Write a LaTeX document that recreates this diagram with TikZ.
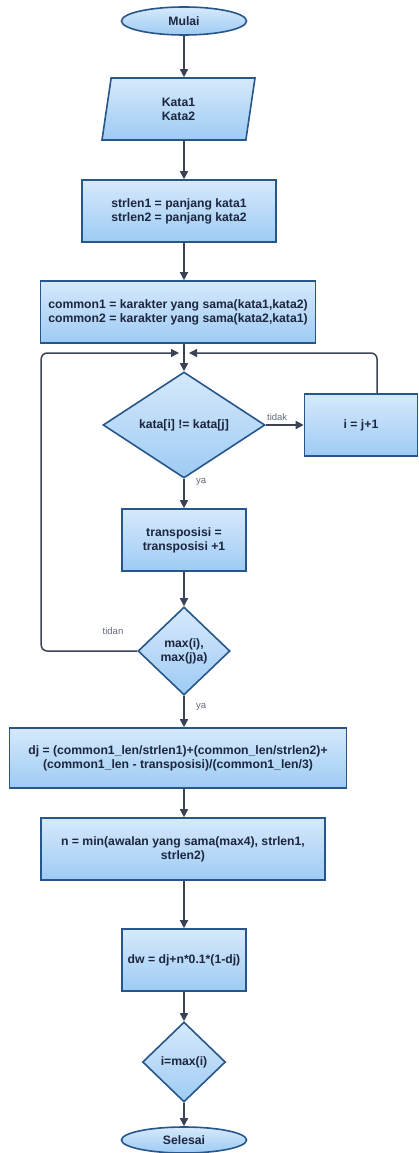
\documentclass[tikz,border=0pt]{standalone}
\usepackage{fontspec}
\setmainfont{Liberation Sans}
\usetikzlibrary{arrows.meta,calc,shapes.geometric}
\definecolor{garisbox}{RGB}{38,86,138}
\definecolor{isiatas}{RGB}{214,233,251}
\definecolor{isibawah}{RGB}{158,203,244}
\definecolor{garispanah}{RGB}{58,68,84}
\definecolor{teksbiru}{RGB}{28,38,62}
\tikzset{
  proses/.style={draw=garisbox, line width=1.6pt, top color=isiatas, bottom color=isibawah,
    rectangle, align=center, inner sep=2pt, minimum height=62pt, text=teksbiru,
    font=\fontsize{12.2}{14}\selectfont\bfseries},
  terminal/.style={proses, ellipse, minimum width=125pt, minimum height=28pt},
  masukan/.style={proses, trapezium, trapezium left angle=71, trapezium right angle=109,
    trapezium stretches body, minimum width=153pt, minimum height=62pt},
  keputusan/.style={proses, diamond, inner sep=0pt},
  panah/.style={draw=garispanah, line width=1.5pt, -{Triangle[length=8pt,width=8pt]}},
  ket/.style={text=garispanah!80, font=\fontsize{9.5}{11}\selectfont}
}

\begin{document}
\begin{tikzpicture}[x=1pt, y=-1pt]
			%%%%% START %%%%%
			\useasboundingbox (0,0) rectangle (419,1153);
			
			\node[terminal] (mulai) at (184,21) {Mulai};
			\node[masukan] (kata) at (178.5,109) {Kata1\\Kata2};
			\node[proses, minimum width=194pt] (strlen) at (179,211) {strlen1 = panjang kata1\\strlen2 = panjang kata2};
			\node[proses, minimum width=275pt] (common) at (178,312) {common1 = karakter yang sama(kata1,kata2)\\common2 = karakter yang sama(kata2,kata1)};
			\coordinate (gabung) at (184,353);
			
			\node[keputusan, minimum width=162pt, minimum height=106pt] (cek) at (184,425) {kata[i] != kata[j]};
			\node[proses, minimum width=113pt] (geser) at (361,425) {i = j+1};
			\node[proses, minimum width=124pt] (trans) at (184,540) {transposisi =\\transposisi +1};
			\node[keputusan, minimum width=92pt, minimum height=88pt] (maks) at (184,651) {max(i),\\max(j)a)};
			
			\node[proses, minimum width=337pt, minimum height=60pt] (dj) at (178,758) {dj = (common1\_len/strlen1)+(common\_len/strlen2)+\\(common1\_len - transposisi)/(common1\_len/3)};
			\node[proses, minimum width=284pt] (nilain) at (183,849) {n = min(awalan yang sama(max4), strlen1,\\strlen2)};
			\node[proses, minimum width=124pt] (dw) at (184,960) {dw = dj+n*0.1*(1-dj)};
			\node[keputusan, minimum width=83pt, minimum height=80pt] (akhir) at (184,1062) {i=max(i)};
			\node[terminal, minimum height=26pt] (selesai) at (184,1140) {Selesai};
			
			% alur utama
			\draw[panah] (mulai.south) -- (mulai.south |- kata.north);
			\draw[panah] (kata.south -| mulai) -- (mulai |- strlen.north);
			\draw[panah] (strlen.south -| mulai) -- (mulai |- common.north);
			\draw[panah] (common.south -| cek) -- (cek.north);
			\draw[panah] (cek.east) -- (geser.west) node[ket, pos=0.3, above] {tidak};
			\draw[panah] (cek.south) -- (trans.north) node[ket, pos=0.1, right=8pt] {ya};
			\draw[panah] (trans.south) -- (maks.north);
			\draw[panah] (maks.south) -- (maks.south |- dj.north) node[ket, pos=0.35, right=8pt] {ya};
			\draw[panah] (dj.south -| maks) -- (maks |- nilain.north);
			\draw[panah] (nilain.south -| dw) -- (dw.north);
			\draw[panah] (dw.south) -- (akhir.north);
			\draw[panah] (akhir.south) -- (selesai.north);
			
			% perulangan
			\draw[panah, rounded corners=6pt] ([xshift=16pt]geser.north) |- ([xshift=5pt]gabung);
			\draw[panah, rounded corners=6pt] (maks.west) -- ++(-96,0) |- ([xshift=-5pt]gabung);
			\node[ket] (lbltidan) at (113,631) {tidan};
			
			%%%%% END %%%%%
\end{tikzpicture}
\end{document}
